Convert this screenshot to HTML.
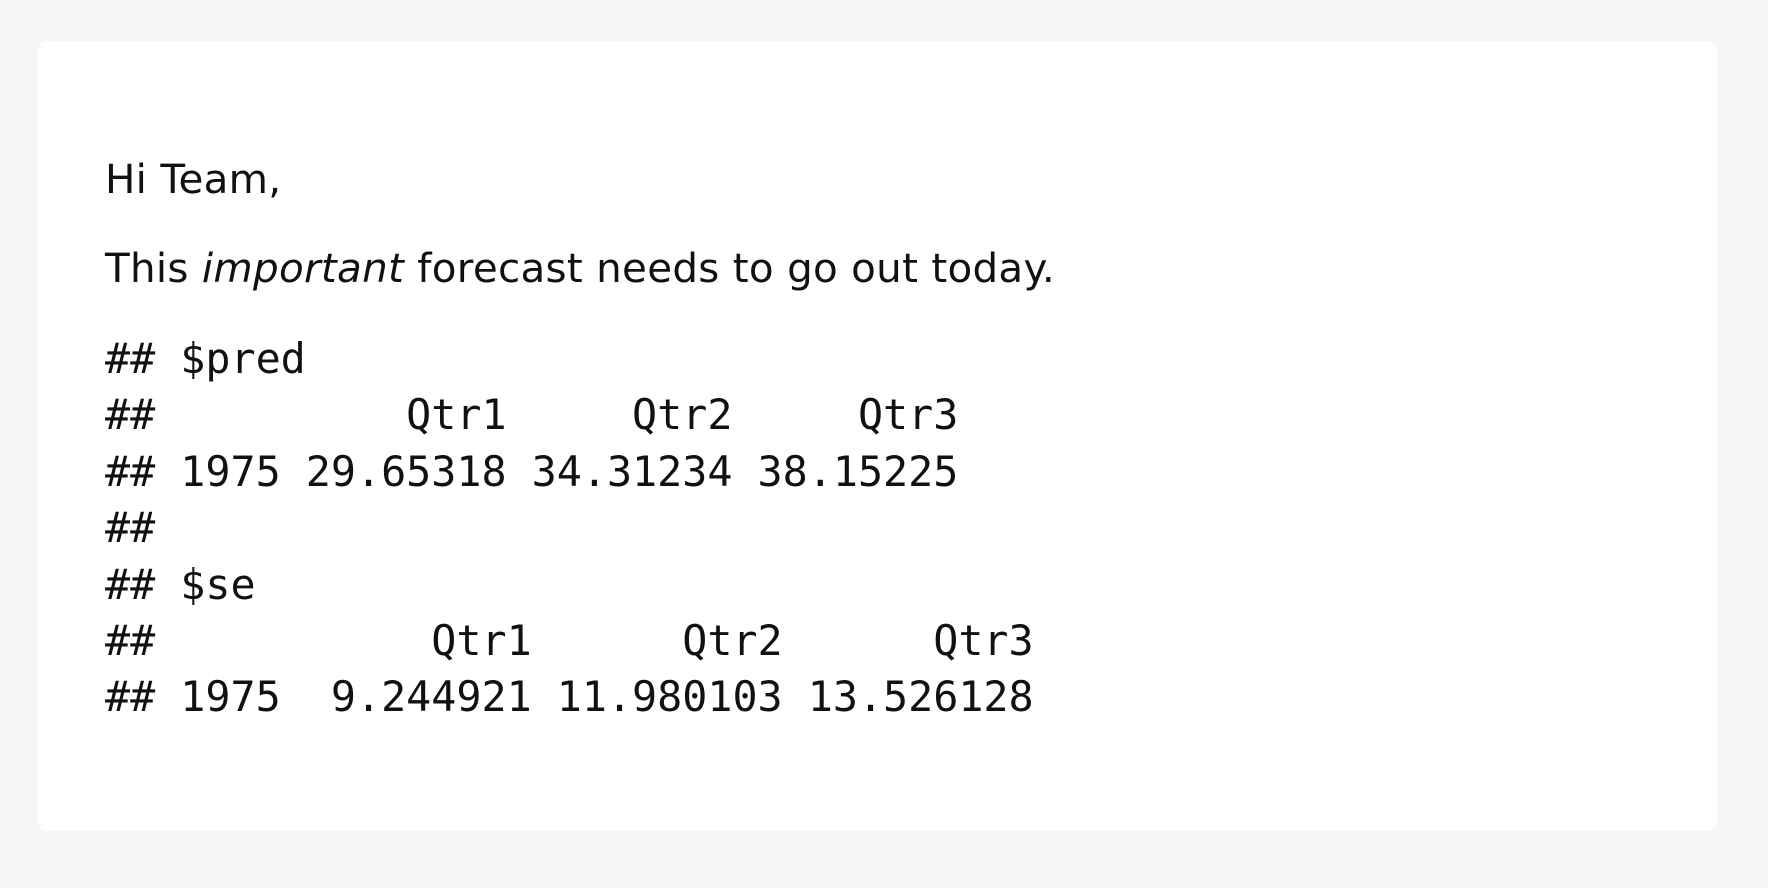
<!DOCTYPE html>
<html><head><meta charset="utf-8"><style>
html,body{margin:0;padding:0;background:#f6f6f6;width:1768px;height:888px;overflow:hidden}
.card{position:absolute;left:38px;top:41px;width:1679px;height:790px;background:#fff;border-radius:9px}
.t{position:absolute;left:105px;margin:0;white-space:pre;color:#111}
.p{font-family:"DejaVu Sans","Liberation Sans",sans-serif;font-size:40.4px;letter-spacing:0.3px}
.c{font-family:"DejaVu Sans Mono","Liberation Mono",monospace;font-size:41.7px;line-height:56.4px;top:331px}
</style></head><body>
<div class="card"></div>
<p class="t p" style="top:155px">Hi Team,</p>
<p class="t p" style="top:244px">This <i>important</i> forecast needs to go out today.</p>
<pre class="t c">## $pred
##          Qtr1     Qtr2     Qtr3
## 1975 29.65318 34.31234 38.15225
##
## $se
##           Qtr1      Qtr2      Qtr3
## 1975  9.244921 11.980103 13.526128</pre>
</body></html>
